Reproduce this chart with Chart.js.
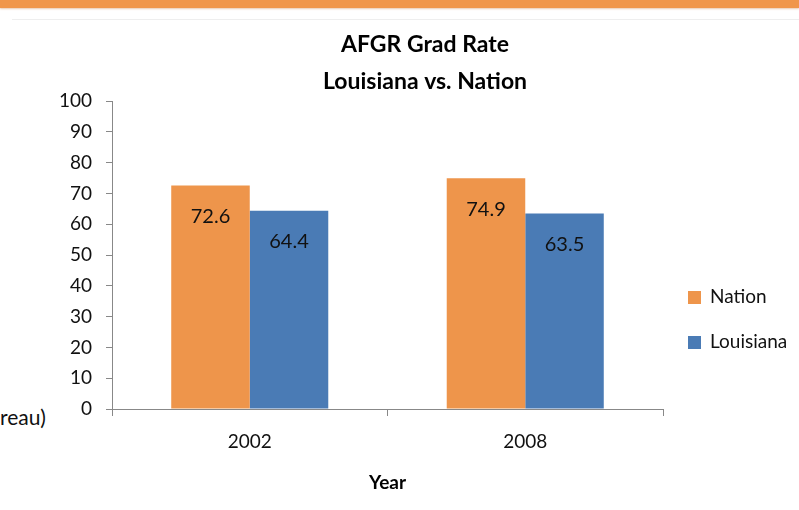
<!DOCTYPE html>
<html>
<head>
<meta charset="utf-8">
<script src="https://cdn.jsdelivr.net/npm/chart.js@4"></script>
<style>
  body { margin: 0; background: #fff; }
  #wrap { position: relative; width: 799px; height: 510px; overflow: hidden; }
  #band { position: absolute; left: 0; top: 0; width: 799px; height: 8px; background: #f0964b; box-shadow: 0 1px 2px rgba(200,120,60,0.4); }
  #frame { position: absolute; left: 12px; top: 19px; width: 800px; height: 1px; background: #eeeeee; }
  #cut { position: absolute; left: 0; top: 404px; font: 21px Lato, sans-serif; color: #111; }
  canvas { position: absolute; left: 0; top: 0; }
</style>
</head>
<body>
<div id="wrap">
  <div id="frame"></div>
  <div id="band"></div>
  <div id="cut">reau)</div>
  <canvas id="chart" width="799" height="510"></canvas>
</div>
<script>
const years = ['2002', '2008'];
const nation = [72.6, 74.9];
const louisiana = [64.4, 63.5];
const seriesNames = ['Nation', 'Louisiana'];
const titleLines = ['AFGR Grad Rate', 'Louisiana vs. Nation'];

const FONT = 'Lato, sans-serif';
const TEXT = '#111';

// titles, legend and value labels drawn on top of the bars
const extras = {
  id: 'extras',
  afterDatasetsDraw(chart) {
    const ctx = chart.ctx;
    ctx.save();

    // value labels inside the top of each bar
    ctx.font = '20px ' + FONT;
    ctx.fillStyle = TEXT;
    ctx.textAlign = 'center';
    ctx.textBaseline = 'middle';
    chart.data.datasets.forEach((ds, i) => {
      chart.getDatasetMeta(i).data.forEach((bar, j) => {
        ctx.fillText(ds.data[j].toFixed(1), bar.x, bar.y + 31);
      });
    });

    // chart title
    ctx.font = 'bold 23px ' + FONT;
    ctx.fillStyle = '#000';
    ctx.fillText(titleLines[0], 425, 45);
    ctx.fillText(titleLines[1], 425, 82);

    // legend
    ctx.font = '19px ' + FONT;
    ctx.textAlign = 'left';
    chart.data.datasets.forEach((ds, i) => {
      const y = 297 + i * 45;
      ctx.fillStyle = ds.backgroundColor;
      ctx.fillRect(688, y - 6, 13, 13);
      ctx.fillStyle = TEXT;
      ctx.fillText(ds.label, 710, y);
    });

    ctx.restore();
  }
};

new Chart(document.getElementById('chart'), {
  type: 'bar',
  data: {
    labels: years,
    datasets: [
      { label: seriesNames[0], data: nation, backgroundColor: '#ee954b' },
      { label: seriesNames[1], data: louisiana, backgroundColor: '#4a7bb5' }
    ]
  },
  options: {
    responsive: false,
    animation: false,
    layout: { padding: { top: 101, right: 136, left: 0, bottom: 0 } },
    categoryPercentage: 0.57,
    barPercentage: 1.0,
    plugins: {
      legend: { display: false },
      title: { display: false },
      tooltip: { enabled: false }
    },
    scales: {
      x: {
        grid: { drawOnChartArea: false, drawTicks: true, tickLength: 7, color: '#888', offset: true },
        border: { color: '#888' },
        ticks: { font: { family: FONT, size: 19 }, color: TEXT, padding: 14 },
        title: { display: true, text: 'Year', font: { family: FONT, size: 19, weight: 'bold' }, color: '#000', padding: { top: 0, bottom: 16 } },
        afterFit(scale) { scale.height = 101; }
      },
      y: {
        min: 0,
        max: 100,
        grid: { drawOnChartArea: false, drawTicks: true, tickLength: 6, color: '#888' },
        border: { color: '#888' },
        ticks: { stepSize: 10, font: { family: FONT, size: 19 }, color: TEXT, padding: 14 },
        afterFit(scale) { scale.width = 112; }
      }
    }
  },
  plugins: [extras]
});
</script>
</body>
</html>
